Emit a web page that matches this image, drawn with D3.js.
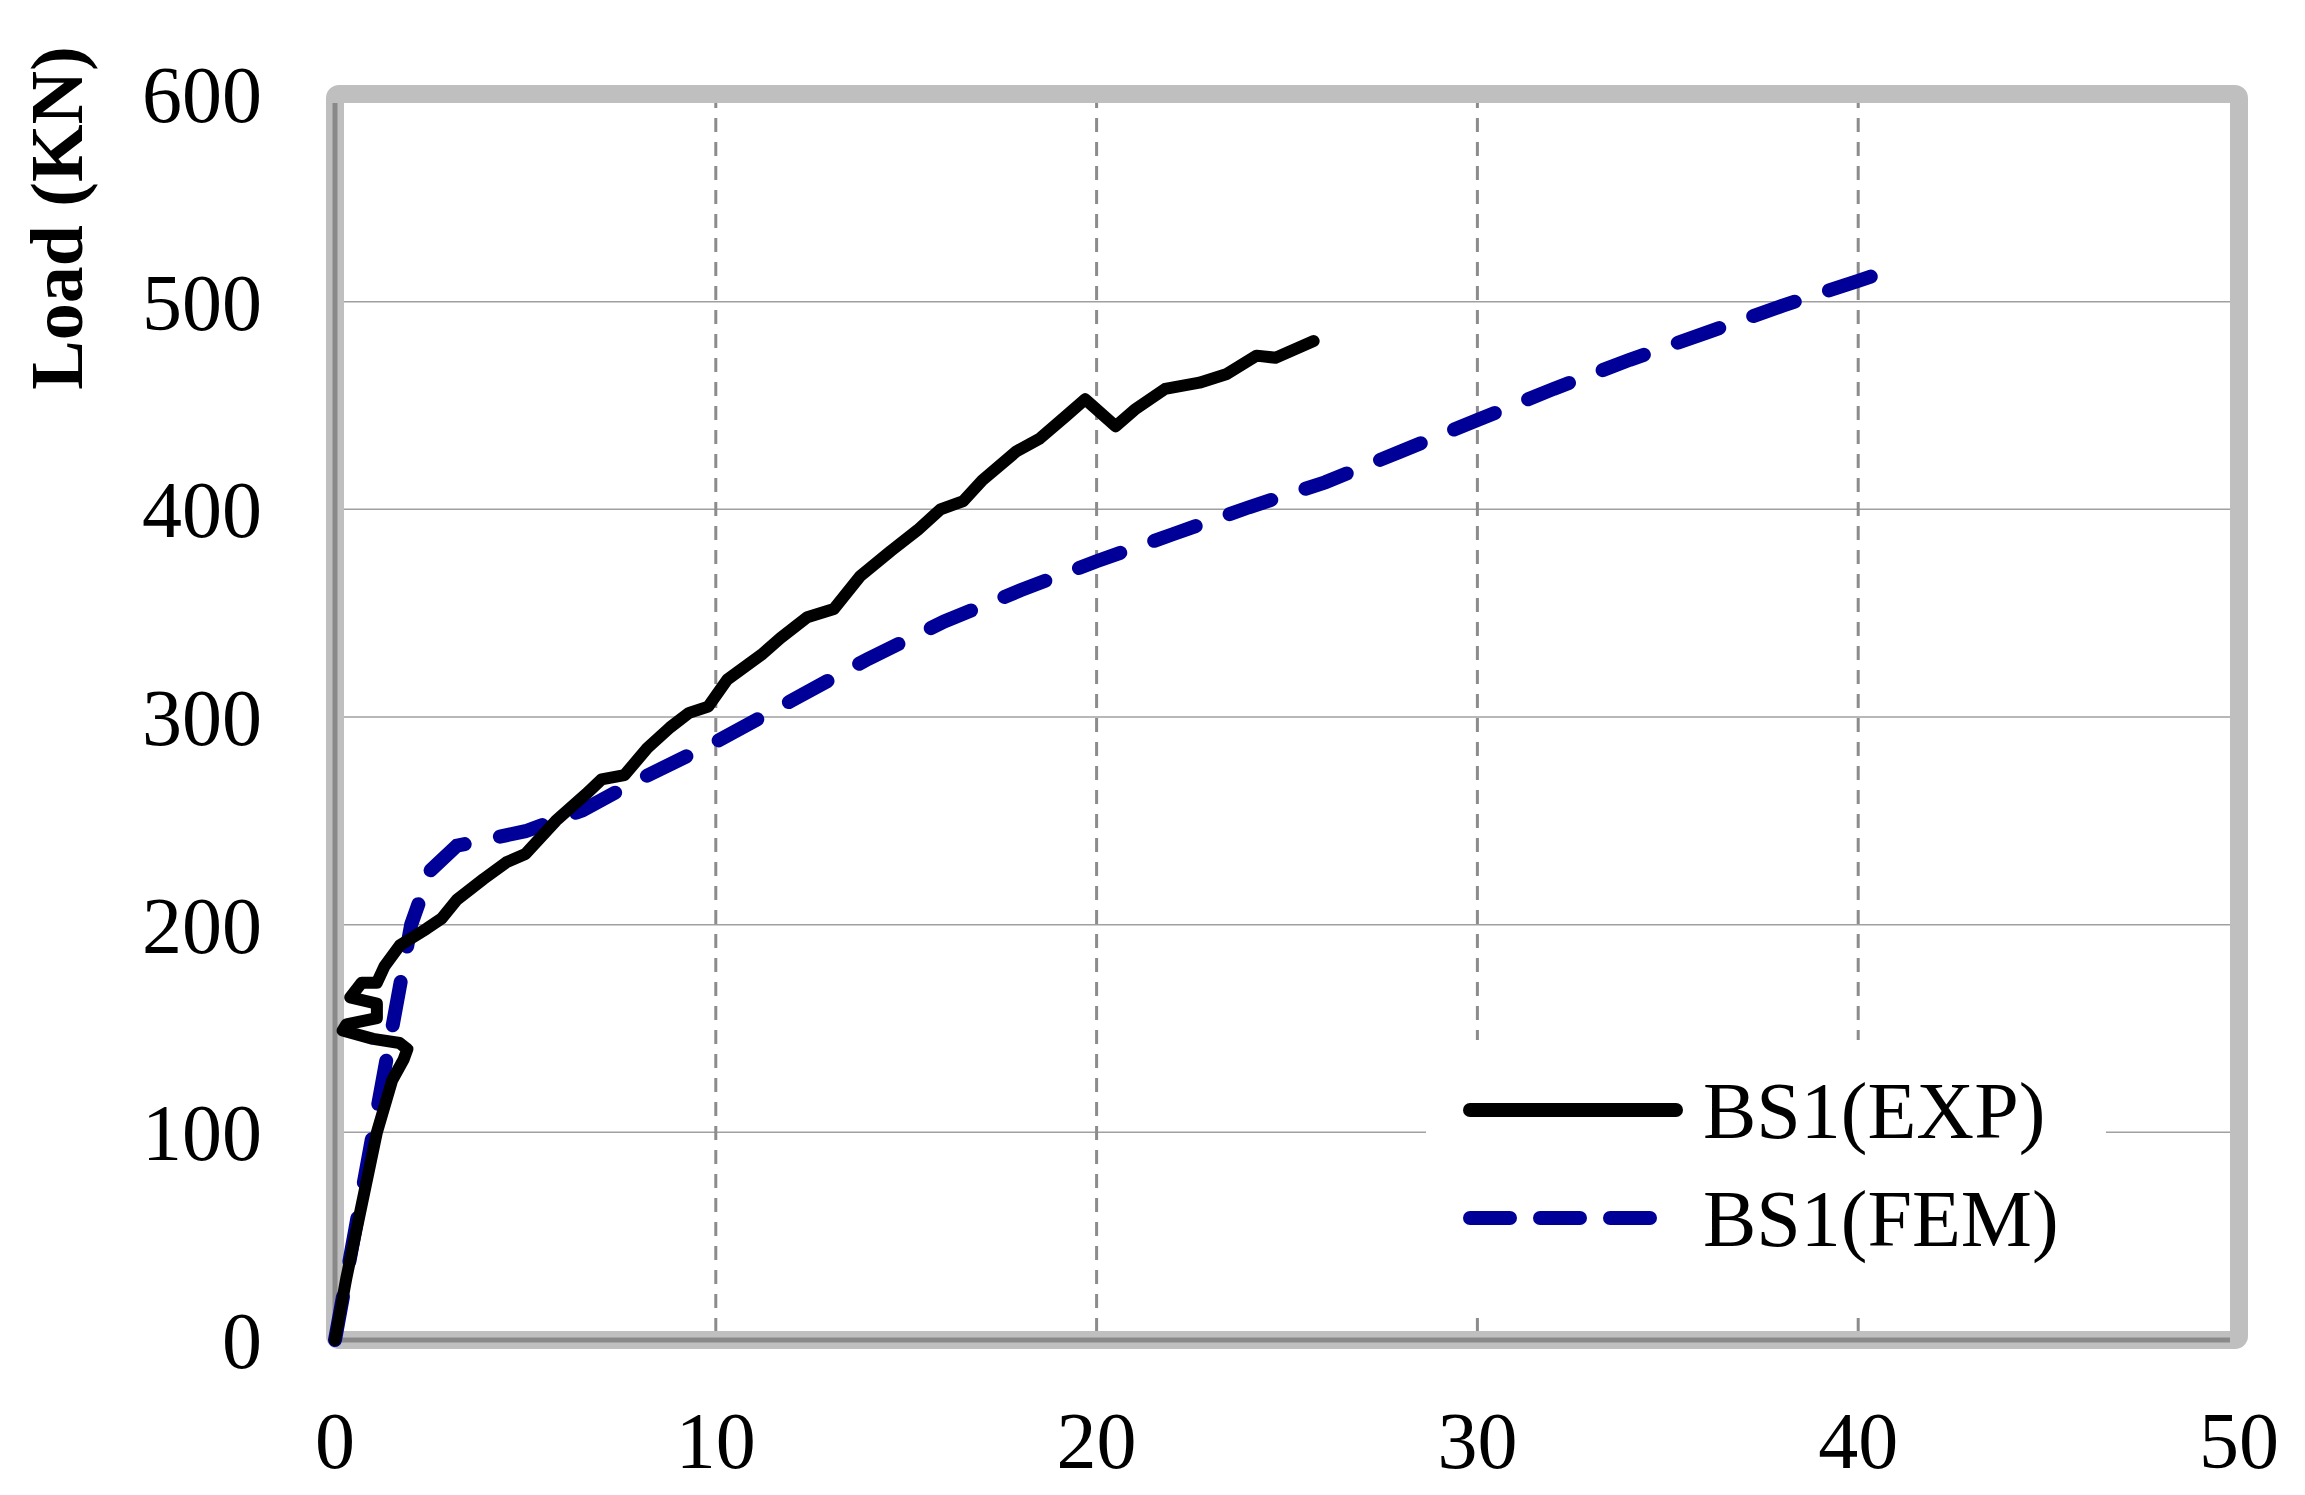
<!DOCTYPE html>
<meta charset="utf-8">
<head>
<script src="https://cdn.jsdelivr.net/npm/d3@7"></script>
<style>body{margin:0;background:#fff}</style>
</head>
<body>
<script>
// data
var xTicks = [0,10,20,30,40,50]
var yTicks = [0,100,200,300,400,500,600]
var expData = [[0,0],[0.3,30],[0.7,65],[1.1,100],[1.5,125],[1.8,135],[1.9,140],[1.7,143],[1,145],[0.2,149],[0.3,152],[1.1,155],[1.1,162],[0.4,165],[0.7,172],[1.1,172],[1.3,180],[1.7,190],[2.4,198],[2.8,203],[3.2,212],[3.9,222],[4.5,230],[5,234],[5.8,250],[6.6,263],[7,270],[7.6,272],[8.2,285],[8.8,295],[9.3,302],[9.8,305],[10.3,318],[11.2,330],[11.7,338],[12.4,348],[13.1,352],[13.8,368],[14.6,380],[15.3,390],[15.9,400],[16.5,404],[17,414],[17.9,428],[18.5,434],[19.2,445],[19.7,453],[20.5,440],[21,448],[21.8,458],[22.7,461],[23.4,465],[24.2,474],[24.7,473],[25.7,481]]
var femData = [[0,0],[0.5,50],[1,100],[1.5,150],[2,200],[2.5,226],[3.2,238],[5,245],[6.5,255],[8,270],[10,288],[12,308],[14,328],[16,346],[18,361],[20,375],[22,388],[24,401],[26,413],[28,428],[30,443],[32,458],[34,472],[36,485],[38,498],[40,510],[40.8,515]]

var w = 2305, h = 1495
var L = 335, R = 2239, T = 94, B = 1340
var svg = d3.select("body").append("svg").attr("width", w).attr("height", h)
var x = d3.scaleLinear().domain([0,50]).range([L,R])
var y = d3.scaleLinear().domain([0,600]).range([B,T])
var font = "Liberation Serif, Times New Roman, serif"

// grid
svg.append("g").selectAll("line").data(yTicks.slice(1,-1)).enter().append("line")
    .attr("x1", L).attr("x2", R).attr("y1", d => y(d)).attr("y2", d => y(d))
    .style("stroke", "#a0a0a0").style("stroke-width", 1.5)
svg.append("g").selectAll("line").data(xTicks.slice(1,-1)).enter().append("line")
    .attr("y1", T).attr("y2", B).attr("x1", d => x(d)).attr("x2", d => x(d))
    .style("stroke", "#8c8c8c").style("stroke-width", 3).style("stroke-dasharray", "14,10")

// frame
svg.append("rect").attr("x", L).attr("y", T).attr("width", R-L).attr("height", B-T)
    .attr("rx", 4).style("fill", "none").style("stroke", "#bfbfbf").style("stroke-width", 18)
svg.append("line").attr("x1", L).attr("x2", L).attr("y1", T+9).attr("y2", B)
    .style("stroke", "#898989").style("stroke-width", 5)
svg.append("line").attr("x1", L).attr("x2", R-9).attr("y1", B).attr("y2", B)
    .style("stroke", "#898989").style("stroke-width", 5)

// tick labels
svg.append("g").selectAll("text").data(yTicks).enter().append("text")
    .attr("x", 262).attr("y", d => y(d)).attr("dy", "0.35em").attr("text-anchor", "end")
    .style("font-family", font).style("font-size", "80px").text(d => d)
svg.append("g").selectAll("text").data(xTicks).enter().append("text")
    .attr("x", d => x(d)).attr("y", 1468).attr("text-anchor", "middle")
    .style("font-family", font).style("font-size", "80px").text(d => d)
svg.append("text").attr("transform", "translate(82,218) rotate(-90)").attr("text-anchor", "middle")
    .style("font-family", font).style("font-size", "74px").style("font-weight", "bold").text("Load (KN)")

// lines
var line = d3.line().x(d => x(d[0])).y(d => y(d[1]))
svg.append("path").attr("d", line(femData)).style("fill", "none").style("stroke", "#000099")
    .style("stroke-width", 14).style("stroke-linecap", "round").style("stroke-dasharray", "44,36")
svg.append("path").attr("d", line(expData)).style("fill", "none").style("stroke", "#000")
    .style("stroke-width", 12).style("stroke-linejoin", "round").style("stroke-linecap", "round")

// legend
var lg = svg.append("g")
lg.append("rect").attr("x", 1426).attr("y", 1040).attr("width", 680).attr("height", 270).style("fill", "#fff")
var items = [["BS1(EXP)", "#000", null], ["BS1(FEM)", "#000099", "40,30"]]
lg.selectAll(".it").data(items).enter().append("g").each(function(d, i) {
    var g = d3.select(this), yy = 1110 + i*108
    g.append("line").attr("x1", 1470).attr("x2", 1676).attr("y1", yy).attr("y2", yy)
        .style("stroke", d[1]).style("stroke-width", 14).style("stroke-linecap", "round")
        .style("stroke-dasharray", d[2])
    g.append("text").attr("x", 1703).attr("y", yy).attr("dy", "0.35em")
        .style("font-family", font).style("font-size", "80px").text(d[0])
})
</script>
</body>
</html>
